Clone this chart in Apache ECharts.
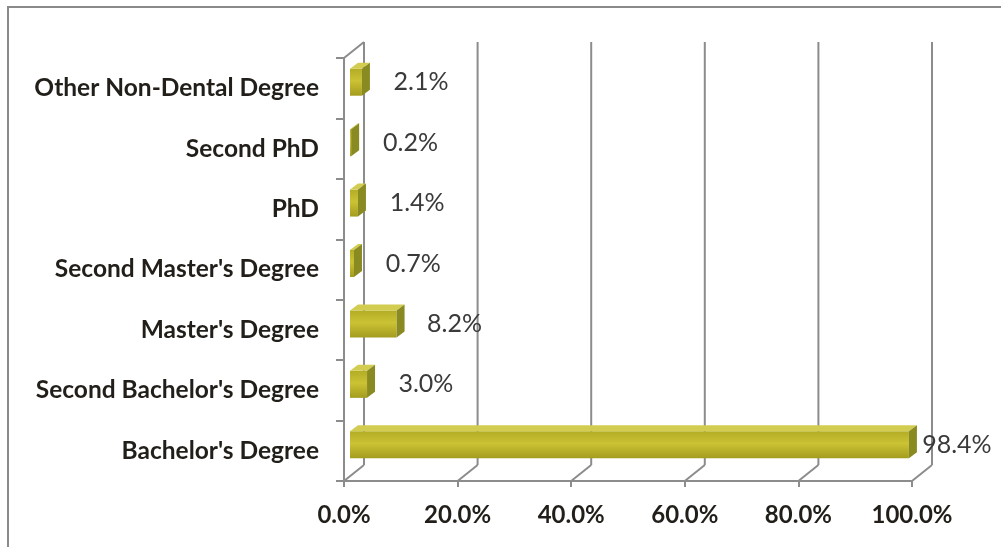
<!DOCTYPE html>
<html><head><meta charset="utf-8">
<script src="https://cdn.jsdelivr.net/npm/echarts@6/dist/echarts.min.js"></script>
<style>html,body{margin:0;padding:0;background:#fff}#c{width:1001px;height:547px}</style>
</head><body><div id="c"></div>
<script>
const categories = ["Bachelor's Degree","Second Bachelor's Degree","Master's Degree","Second Master's Degree","PhD","Second PhD","Other Non-Dental Degree"];
const percentages = [98.4, 3.0, 8.2, 0.7, 1.4, 0.2, 2.1];
const xTicks = [0, 20, 40, 60, 80, 100];

const DX = 20, DY = -16;      // wall depth
const BDX = 8, BDY = -6;      // bar depth
const BOFF_X = 6, BOFF_Y = -6; // bar shift (mid-depth)
const BAR_H = 27;
const gridCol = '#8c8c8c';

const chart = echarts.init(document.getElementById('c'), null, {renderer: 'canvas'});

function wallItem(params, api) {
  const v = api.value(0);
  const cs = params.coordSys;
  const x = api.coord([v, 0])[0];
  const top = cs.y, bottom = cs.y + cs.height;
  const st = {stroke: gridCol, lineWidth: 2, fill: null};
  const children = [
    {type: 'line', shape: {x1: x, y1: bottom, x2: x + DX, y2: bottom + DY}, style: st},
    {type: 'line', shape: {x1: x + DX, y1: bottom + DY, x2: x + DX, y2: top + DY}, style: st}
  ];
  if (params.dataIndex === 0) {
    children.push({type: 'line', shape: {x1: x, y1: top, x2: x + DX, y2: top + DY}, style: st});
  }
  return {type: 'group', children};
}

function barItem(params, api) {
  const v = api.value(0), i = api.value(1);
  const p0 = api.coord([0, i]), p1 = api.coord([v, i]);
  const x0 = p0[0] + BOFF_X, x1 = p1[0] + BOFF_X;
  const yc = p0[1] + BOFF_Y;
  const yT = yc - BAR_H / 2, yB = yc + BAR_H / 2;
  const front = new echarts.graphic.LinearGradient(0, 0, 0, 1, [
    {offset: 0, color: '#b3ad26'}, {offset: 0.45, color: '#cbc234'}, {offset: 1, color: '#a49c1e'}
  ]);
  const labelX = x1 + BDX + (24 - 0.19 * v);
  return {type: 'group', children: [
    {type: 'rect', shape: {x: x0, y: yT, width: Math.max(x1 - x0, 0.5), height: BAR_H}, style: {fill: front}},
    {type: 'polygon', shape: {points: [[x0, yT], [x1, yT], [x1 + BDX, yT + BDY], [x0 + BDX, yT + BDY]]}, style: {fill: '#d2cc50'}},
    {type: 'polygon', shape: {points: [[x1, yT], [x1 + BDX, yT + BDY], [x1 + BDX, yB + BDY], [x1, yB]]}, style: {fill: '#8a8a22'}},
    {type: 'text', style: {x: labelX, y: yc, text: v.toFixed(1) + '%', fill: '#3a3a3a', font: '25px Lato', textVerticalAlign: 'middle', textAlign: 'left'}}
  ]};
}

chart.setOption({
  animation: false,
  graphic: [{type: 'rect', shape: {x: 8, y: 7, width: 1200, height: 800}, style: {fill: 'none', stroke: '#8a8a8a', lineWidth: 2}, z: -1}],
  grid: {left: 344, top: 58, width: 568, height: 423},
  xAxis: {
    type: 'value', min: 0, max: 100, interval: 20,
    axisLine: {show: true, lineStyle: {color: gridCol, width: 2}},
    axisTick: {show: true, length: 6, lineStyle: {color: gridCol, width: 2}},
    splitLine: {show: false},
    axisLabel: {formatter: v => v.toFixed(1) + '%', fontFamily: 'Lato', fontWeight: 'bold', fontSize: 24, color: '#221f1a', margin: 22}
  },
  yAxis: {
    type: 'category', data: categories,
    axisLine: {show: true, lineStyle: {color: gridCol, width: 2}},
    axisTick: {show: true, length: 8, lineStyle: {color: gridCol, width: 2}},
    axisLabel: {fontFamily: 'Lato', fontWeight: 'bold', fontSize: 24.5, color: '#221f1a', margin: 25}
  },
  series: [
    {type: 'custom', data: xTicks.map(v => [v, 0]), encode: {x: 0, y: 1}, renderItem: wallItem, z: 1, silent: true},
    {type: 'custom', data: percentages.map((v, i) => [v, i]), encode: {x: 0, y: 1}, renderItem: barItem, z: 3, silent: true}
  ]
});
</script></body></html>
